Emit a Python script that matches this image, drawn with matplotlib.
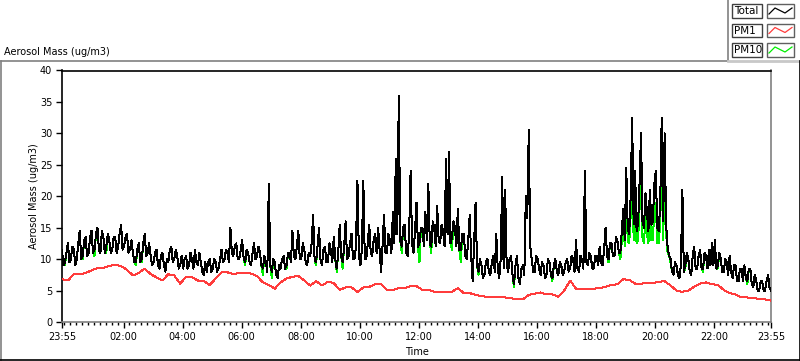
import matplotlib
matplotlib.use("Agg")
import matplotlib.pyplot as plt
from matplotlib.lines import Line2D
from matplotlib.patches import Rectangle
import numpy as np

plt.rcParams['font.family'] = ['DejaVu Sans']

# ---------------- data (minutes after 23:55) ----------------
step_total = 3   # minutes between Total / PM10 readings
step_pm1 = 12    # minutes between PM1 readings

total = [
    11.5, 9.0, 9.5, 11.0, 12.5, 9.5, 10.0, 12.0, 11.5, 9.0, 10.0, 12.5, 14.5, 10.0, 10.5, 13.0,
    13.5, 10.5, 11.0, 13.5, 14.5, 11.0, 11.5, 14.0, 15.0, 11.5, 11.0, 14.5, 13.5, 11.0, 12.0, 14.0,
    13.0, 11.0, 11.5, 13.5, 13.5, 11.0, 12.0, 14.0, 15.5, 11.5, 12.0, 13.5, 14.0, 11.0, 11.5, 13.0,
    11.0, 9.5, 9.5, 11.5, 12.5, 9.5, 10.0, 12.5, 14.0, 10.5, 11.0, 12.5, 10.5, 9.0, 9.5, 11.0,
    11.5, 9.0, 8.5, 10.5, 11.0, 9.0, 8.0, 10.0, 9.5, 11.5, 12.0, 9.5, 10.0, 11.5, 10.5, 8.5,
    9.0, 10.5, 8.5, 10.0, 10.5, 8.5, 9.0, 11.0, 10.0, 8.5, 11.5, 9.5, 9.0, 11.0, 9.5, 8.0,
    7.5, 9.5, 8.0, 9.5, 10.0, 8.0, 8.5, 10.0, 9.5, 8.0, 8.5, 10.0, 11.5, 9.5, 10.0, 11.5,
    11.0, 9.5, 15.0, 11.0, 10.5, 12.0, 12.5, 10.0, 10.0, 11.5, 13.0, 10.0, 9.5, 11.5, 11.0, 9.5,
    9.0, 11.0, 12.5, 10.0, 10.5, 12.0, 11.0, 9.0, 8.5, 10.5, 9.5, 8.0, 22.0, 9.0, 8.0, 10.0,
    9.5, 7.5, 7.0, 9.0, 8.5, 10.0, 10.5, 8.5, 9.0, 11.0, 11.0, 9.5, 14.5, 10.5, 10.0, 12.0,
    14.5, 10.0, 10.0, 12.5, 11.5, 9.5, 9.0, 11.0, 10.5, 12.5, 17.0, 10.0, 9.5, 12.0, 15.0, 10.0,
    9.0, 11.5, 12.0, 9.5, 9.5, 12.5, 11.5, 9.5, 13.5, 10.0, 8.5, 11.0, 15.5, 10.5, 9.5, 12.0,
    16.0, 10.0, 10.5, 12.5, 14.0, 10.0, 10.0, 12.0, 22.5, 10.5, 9.0, 11.5, 22.5, 10.0, 10.0, 12.5,
    15.5, 11.0, 10.5, 13.0, 14.0, 11.0, 15.0, 11.5, 8.0, 12.0, 17.0, 11.0, 11.0, 14.0, 13.0, 11.0,
    17.5, 12.5, 26.0, 14.0, 36.0, 13.0, 12.0, 15.0, 15.5, 11.0, 10.5, 14.0, 24.0, 12.5, 11.0, 14.5,
    19.0, 12.0, 12.5, 15.0, 15.0, 12.0, 17.5, 13.0, 22.0, 12.5, 12.0, 16.0, 15.0, 12.0, 18.5, 13.0,
    12.5, 15.5, 14.5, 12.0, 26.0, 14.0, 27.0, 12.5, 13.5, 16.0, 15.0, 12.0, 18.0, 11.5, 11.5, 14.0,
    14.0, 10.5, 10.0, 13.0, 17.0, 10.5, 6.5, 12.5, 19.0, 9.0, 8.0, 10.0, 9.0, 7.0, 7.5, 9.5,
    10.0, 8.0, 7.5, 9.5, 10.5, 8.0, 14.0, 8.5, 7.0, 10.0, 23.0, 8.5, 21.0, 9.5, 8.0, 10.0,
    10.5, 7.5, 6.0, 9.0, 10.5, 7.0, 6.0, 8.5, 9.0, 7.5, 20.0, 16.5, 30.5, 12.0, 10.0, 8.0,
    8.0, 10.5, 10.0, 8.5, 7.5, 9.5, 9.0, 7.0, 7.5, 10.0, 9.5, 7.5, 7.0, 9.0, 10.0, 8.0,
    7.5, 9.5, 9.0, 7.5, 8.0, 9.5, 10.0, 8.0, 8.5, 10.5, 10.0, 8.0, 13.0, 8.5, 8.0, 10.5,
    10.0, 8.5, 24.0, 9.5, 9.0, 11.0, 10.5, 8.5, 8.5, 10.5, 10.5, 9.0, 12.0, 9.5, 9.0, 11.5,
    15.0, 10.5, 10.0, 12.5, 12.5, 10.5, 10.5, 13.5, 13.0, 11.0, 11.0, 14.5, 18.0, 13.0, 24.5, 15.0,
    14.0, 20.0, 32.5, 15.5, 24.0, 14.5, 15.5, 22.0, 30.0, 16.0, 15.0, 20.5, 17.5, 14.5, 21.0, 15.5,
    16.0, 22.0, 24.0, 15.0, 14.5, 19.0, 32.5, 16.0, 30.0, 15.5, 12.0, 10.5, 10.0, 8.0, 7.5, 9.5,
    9.0, 7.5, 7.0, 9.0, 21.0, 8.0, 9.0, 11.0, 10.0, 8.0, 7.5, 10.5, 12.0, 8.5, 8.5, 10.5,
    11.5, 8.5, 8.5, 11.0, 10.5, 8.5, 11.5, 9.0, 12.5, 9.0, 13.0, 8.5, 9.0, 11.0, 10.0, 8.0,
    8.0, 10.0, 9.5, 7.5, 10.5, 8.0, 7.0, 9.0, 9.0, 6.5, 6.5, 8.5, 8.5, 6.5, 9.0, 7.0,
    6.5, 8.5, 8.5, 6.0, 5.5, 7.5, 6.5, 5.0, 5.0, 6.5, 6.5, 5.0, 5.0, 6.5, 7.5, 5.5,
    5.0,
]

pm10 = [
    11.5, 9.0, 9.0, 11.0, 12.5, 9.5, 10.0, 12.0, 11.5, 9.0, 10.0, 12.5, 14.5, 10.0, 10.0, 13.0,
    13.5, 10.5, 11.0, 13.5, 14.5, 11.0, 10.5, 14.0, 15.0, 11.5, 11.0, 14.5, 13.5, 11.0, 11.0, 14.0,
    13.0, 11.0, 11.5, 13.5, 13.5, 11.0, 12.0, 14.0, 15.5, 11.5, 12.0, 13.5, 14.0, 11.0, 11.5, 13.0,
    11.0, 9.5, 9.0, 11.5, 12.5, 9.5, 9.5, 12.5, 14.0, 10.5, 11.0, 12.5, 10.5, 9.0, 9.5, 11.0,
    11.5, 9.0, 8.5, 10.5, 11.0, 9.0, 8.0, 10.0, 9.5, 11.5, 12.0, 9.5, 10.0, 11.5, 10.5, 8.5,
    9.0, 10.5, 8.5, 10.0, 10.5, 8.5, 9.0, 11.0, 10.0, 8.5, 11.5, 9.5, 9.0, 11.0, 9.5, 8.0,
    7.5, 9.5, 8.0, 9.5, 10.0, 8.0, 8.5, 10.0, 9.5, 8.0, 8.5, 10.0, 11.5, 9.5, 10.0, 11.5,
    11.0, 9.5, 15.0, 11.0, 10.5, 12.0, 12.5, 10.0, 10.0, 11.5, 13.0, 10.0, 9.0, 11.5, 11.0, 9.5,
    9.0, 11.0, 12.5, 10.0, 10.5, 12.0, 11.0, 9.0, 7.5, 10.5, 9.5, 8.0, 22.0, 9.0, 7.0, 10.0,
    9.5, 7.5, 7.0, 9.0, 8.5, 10.0, 10.5, 8.5, 8.5, 11.0, 11.0, 9.5, 14.5, 10.5, 10.0, 12.0,
    14.5, 10.0, 10.0, 12.5, 11.5, 9.5, 9.0, 11.0, 10.5, 12.5, 17.0, 10.0, 9.0, 12.0, 15.0, 10.0,
    9.0, 11.5, 12.0, 9.5, 9.5, 12.5, 11.5, 9.5, 13.5, 10.0, 8.0, 11.0, 15.5, 10.5, 8.5, 12.0,
    16.0, 10.0, 10.5, 12.5, 14.0, 10.0, 10.0, 12.0, 22.5, 10.5, 9.0, 11.5, 22.5, 10.0, 10.0, 12.5,
    15.5, 11.0, 10.5, 13.0, 14.0, 11.0, 15.0, 11.5, 8.0, 12.0, 17.0, 11.0, 11.0, 14.0, 13.0, 11.0,
    17.5, 12.5, 26.0, 14.0, 36.0, 13.0, 11.0, 15.0, 15.5, 11.0, 10.5, 14.0, 24.0, 12.5, 11.0, 14.5,
    19.0, 12.0, 9.5, 15.0, 15.0, 12.0, 17.5, 13.0, 22.0, 12.5, 11.0, 16.0, 15.0, 12.0, 18.5, 13.0,
    12.5, 15.5, 14.5, 12.0, 26.0, 14.0, 27.0, 12.5, 11.5, 16.0, 15.0, 12.0, 18.0, 11.5, 9.5, 14.0,
    14.0, 10.5, 10.0, 13.0, 17.0, 10.5, 6.5, 12.5, 19.0, 9.0, 7.5, 10.0, 9.0, 7.0, 7.5, 9.5,
    10.0, 8.0, 7.5, 9.5, 10.5, 8.0, 14.0, 8.5, 7.0, 10.0, 23.0, 8.5, 21.0, 9.5, 8.0, 10.0,
    10.5, 7.5, 5.5, 9.0, 10.5, 7.0, 6.0, 8.5, 9.0, 7.5, 20.0, 16.5, 30.5, 12.0, 10.0, 8.0,
    8.0, 10.5, 10.0, 8.5, 7.5, 9.5, 9.0, 7.0, 7.5, 10.0, 9.5, 7.5, 6.5, 9.0, 10.0, 8.0,
    7.5, 9.5, 9.0, 7.5, 8.0, 9.5, 10.0, 8.0, 8.5, 10.5, 10.0, 8.0, 13.0, 8.5, 8.0, 10.5,
    10.0, 8.5, 24.0, 9.5, 9.0, 11.0, 10.5, 8.5, 8.5, 10.5, 10.5, 9.0, 12.0, 9.5, 9.0, 11.5,
    15.0, 10.5, 9.5, 12.5, 12.5, 10.5, 10.5, 13.5, 13.0, 11.0, 10.0, 13.0, 16.0, 12.0, 20.0, 13.0,
    12.5, 17.0, 27.0, 13.0, 19.0, 12.5, 13.0, 18.0, 24.0, 13.5, 12.5, 17.0, 14.0, 12.5, 17.5, 13.0,
    13.0, 18.0, 19.0, 12.5, 12.5, 16.0, 25.0, 13.0, 24.0, 14.0, 11.0, 10.5, 9.5, 8.0, 7.5, 9.5,
    9.0, 7.5, 7.0, 9.0, 21.0, 8.0, 8.5, 11.0, 10.0, 8.0, 7.5, 10.5, 12.0, 8.5, 8.5, 10.5,
    11.5, 8.5, 8.0, 11.0, 10.5, 8.5, 11.5, 9.0, 12.5, 9.0, 13.0, 8.5, 8.5, 11.0, 10.0, 8.0,
    8.0, 10.0, 9.5, 7.5, 10.5, 8.0, 7.0, 9.0, 9.0, 6.5, 6.5, 8.5, 8.5, 6.5, 9.0, 7.0,
    6.0, 8.5, 8.5, 6.0, 5.5, 7.5, 6.5, 5.0, 5.0, 6.5, 6.5, 5.0, 5.0, 6.5, 7.5, 5.5,
    5.0,
]

pm1 = [
    6.8, 6.6, 7.6, 7.6, 7.8, 8.2, 8.6, 8.6, 8.9, 9.1, 8.9, 8.3, 7.4, 7.8, 8.5, 7.6, 7.1, 6.6,
    7.6, 7.4, 6.1, 7.2, 7.1, 6.6, 6.5,
    5.9, 6.9, 7.9, 7.9, 7.6, 7.8, 7.8, 7.7, 7.3, 6.3, 5.9, 5.3, 6.3, 6.9, 7.2, 7.3, 6.6, 5.8,
    6.5, 5.8, 6.4, 6.2, 5.1,
    5.5, 5.5, 4.8, 5.5, 5.6, 6.0, 6.0, 5.1, 5.1, 5.4, 5.4, 5.7, 5.7, 5.1, 5.1, 4.8, 4.8, 4.8,
    4.8, 5.4, 4.6, 4.6, 4.3, 4.1,
    4.0, 4.0, 4.0, 3.9, 3.8, 3.6, 3.6, 4.3, 4.5, 4.7, 4.4, 4.4, 4.0, 5.0, 6.6, 5.3, 5.2, 5.2,
    5.3, 5.4, 5.6, 5.9, 6.0, 6.8,
    6.7, 6.1, 6.1, 6.2, 6.2, 6.4, 6.5, 5.8, 5.0, 4.8, 5.0, 5.6, 6.1, 6.3, 6.0, 5.9, 5.1, 4.6,
    4.4, 3.9, 3.9, 3.8, 3.7, 3.6, 3.4,
]

tick_labels = ["23:55", "02:00", "04:00", "06:00", "08:00", "10:00", "12:00",
               "14:00", "16:00", "18:00", "20:00", "22:00", "23:55"]
tick_minutes = [0, 125, 245, 365, 485, 605, 725, 845, 965, 1085, 1205, 1325, 1440]
series_names = ["Total", "PM1", "PM10"]
series_colors = ["#000000", "#ff3c3c", "#00ee00"]

t_total = np.arange(len(total)) * step_total
t_pm10 = np.arange(len(pm10)) * step_total
t_pm1 = np.arange(len(pm1)) * step_pm1

# ---------------- figure ----------------
W, H = 800, 361
fig = plt.figure(figsize=(W / 100, H / 100), dpi=100)
fig.patch.set_facecolor("white")


def fx(px):
    return px / W


def fy(py):
    return 1 - py / H


L, R, T, B = 62, 771, 70.5, 322
ax = fig.add_axes([fx(L), fy(B), fx(R - L), (B - T) / H])

ax.plot(t_pm10, pm10, color=series_colors[2], lw=0.72, zorder=2, antialiased=False)
ax.plot(t_total, total, color=series_colors[0], lw=0.72, zorder=3, antialiased=False)
ax.plot(t_pm1, pm1, color=series_colors[1], lw=0.72, zorder=4, antialiased=False)

ax.set_xlim(0, 1440)
ax.set_ylim(0, 40)
ax.set_yticks(range(0, 41, 5))
ax.set_xticks(tick_minutes)
ax.set_xticklabels(tick_labels)
ax.set_xticks(np.arange(5, 1440, 12), minor=True)
ax.tick_params(axis="both", which="major", direction="out", length=4, width=1,
               labelsize=7, pad=3, color="black")
ax.tick_params(axis="x", which="minor", direction="out", length=2.5, width=1, color="black")
ax.tick_params(axis="y", which="minor", left=False)

for side in ["left", "top"]:
    ax.spines[side].set_color("black")
    ax.spines[side].set_linewidth(1.2)
for side in ["right", "bottom"]:
    ax.spines[side].set_color("#808080")
    ax.spines[side].set_linewidth(1.2)

# axis labels / title
fig.text(fx(4), fy(52), "Aerosol Mass (ug/m3)", fontsize=7, ha="left", va="center")
fig.text(fx(34), fy((T + B) / 2), "Aerosol Mass (ug/m3)", fontsize=7, rotation=90,
         ha="center", va="center")
fig.text(fx((L + R) / 2), fy(352), "Time", fontsize=7, ha="center", va="center")


# panel frame
def fline(x0, y0, x1, y1, color, lw):
    fig.add_artist(Line2D([fx(x0), fx(x1)], [fy(y0), fy(y1)], color=color, lw=lw,
                          transform=fig.transFigure))


fline(0.5, 61, 728, 61, "#808080", 1.2)
fline(0.5, 61, 0.5, 360, "#808080", 1.2)
fline(728, 0, 728, 61, "#808080", 1.2)
fline(728, 61, 799, 61, "#c8c8c8", 2.0)
fline(0, 360, 800, 360, "black", 1.2)
fline(799.5, 61, 799.5, 360, "black", 1.2)

# legend (LabVIEW style)
box_tops = [4, 23.5, 43]
for name, col, top in zip(series_names, series_colors, box_tops):
    fig.add_artist(Rectangle((fx(732), fy(top + 13.5)), fx(30), 13.5 / H,
                             transform=fig.transFigure, facecolor="white",
                             edgecolor="#404040", lw=1.0))
    fig.text(fx(734), fy(top + 7), name, fontsize=7.5, ha="left", va="center")
    fig.add_artist(Rectangle((fx(767), fy(top + 13.5)), fx(27), 13.5 / H,
                             transform=fig.transFigure, facecolor="white",
                             edgecolor="#606060", lw=1.0))
    sx = [769, 775, 785, 792]
    sy = [top + 10, top + 4, top + 9, top + 4]
    fig.add_artist(Line2D([fx(v) for v in sx], [fy(v) for v in sy], color=col, lw=0.9,
                          transform=fig.transFigure))

fig.savefig("out.png", dpi=100)
